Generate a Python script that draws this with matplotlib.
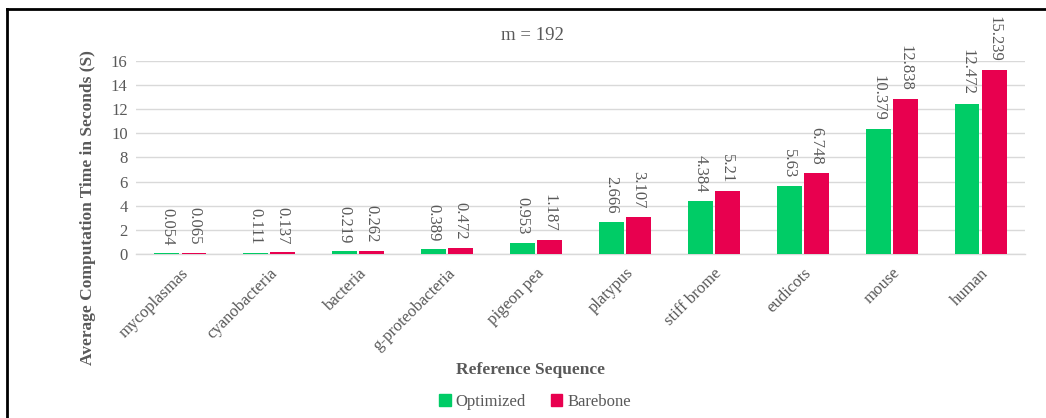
import matplotlib
matplotlib.use("Agg")
import matplotlib.pyplot as plt
import numpy as np
from matplotlib.lines import Line2D
from matplotlib.patches import Patch

categories = ["mycoplasmas", "cyanobacteria", "bacteria", "g-proteobacteria", "pigeon pea",
              "platypus", "stiff brome", "eudicots", "mouse", "human"]
optimized = [0.054, 0.111, 0.219, 0.389, 0.953, 2.666, 4.384, 5.63, 10.379, 12.472]
barebone = [0.065, 0.137, 0.262, 0.472, 1.187, 3.107, 5.21, 6.748, 12.838, 15.239]
opt_labels = ["0.054", "0.111", "0.219", "0.389", "0.953", "2.666", "4.384", "5.63", "10.379", "12.472"]
bare_labels = ["0.065", "0.137", "0.262", "0.472", "1.187", "3.107", "5.21", "6.748", "12.838", "15.239"]
yticks = [0, 2, 4, 6, 8, 10, 12, 14, 16]

plt.rcParams['font.family'] = ['Liberation Serif', 'DejaVu Serif']
GRAY = "#595959"
GREEN = "#00CC66"
RED = "#E8004F"

fig = plt.figure(figsize=(10.46, 4.18), dpi=100)
ax = fig.add_axes([136/1046, 1-254/418, (1025-136)/1046, (254-61)/418])

x = np.arange(len(categories))
w = 0.28
off = 0.152
b1 = ax.bar(x - off, optimized, w, color=GREEN, zorder=3)
b2 = ax.bar(x + off, barebone, w, color=RED, zorder=3)

for bars, labels in ((b1, opt_labels), (b2, bare_labels)):
    for rect, lab in zip(bars, labels):
        ax.annotate(lab, (rect.get_x() + rect.get_width()/2, rect.get_height()),
                    xytext=(0, 6), textcoords="offset points", rotation=270,
                    ha="center", va="bottom", fontsize=12, color=GRAY)

ax.set_xlim(-0.5, len(categories) - 0.5)
ax.set_ylim(0, 16)
ax.set_yticks(yticks)
ax.set_yticklabels([str(t) for t in yticks], fontsize=12, color=GRAY)
ax.set_xticks(x)
ax.set_xticklabels(categories, rotation=45, ha="right", rotation_mode="anchor",
                   fontsize=12, color=GRAY)
ax.tick_params(axis="both", length=0, pad=6)
ax.tick_params(axis="x", pad=8)
ax.yaxis.grid(True, color="#D9D9D9", linewidth=1, zorder=0)
ax.set_axisbelow(True)
for s in ("top", "right", "left"):
    ax.spines[s].set_visible(False)
ax.spines["bottom"].set_color("#D9D9D9")
ax.spines["bottom"].set_linewidth(1)

fig.text(532/1046, 1-35/418, "m = 192", ha="center", va="center", fontsize=13.5, color=GRAY)
fig.text(88/1046, 1-208/418, "Average Computation Time in Seconds (S)", rotation=90,
         ha="center", va="center", fontsize=12.5, fontweight="bold", color=GRAY)
fig.text(530/1046, 1-370/418, "Reference Sequence", ha="center", va="center",
         fontsize=12.5, fontweight="bold", color=GRAY)

handles = [Patch(color=GREEN, label="Optimized"), Patch(color=RED, label="Barebone")]
leg = fig.legend(handles=handles, loc="center", bbox_to_anchor=(535/1046, 1-402/418),
                 ncol=2, frameon=False, fontsize=12, handlelength=0.7, handleheight=0.7,
                 handletextpad=0.3, columnspacing=1.5)
for t in leg.get_texts():
    t.set_color(GRAY)

# outer frame (top and left edges visible)
fig.add_artist(Line2D([7/1046, 1], [1-9/418, 1-9/418], transform=fig.transFigure, color="black", linewidth=2))
fig.add_artist(Line2D([7/1046, 7/1046], [0, 1-9/418], transform=fig.transFigure, color="black", linewidth=2))

fig.savefig("out.png", dpi=100)
